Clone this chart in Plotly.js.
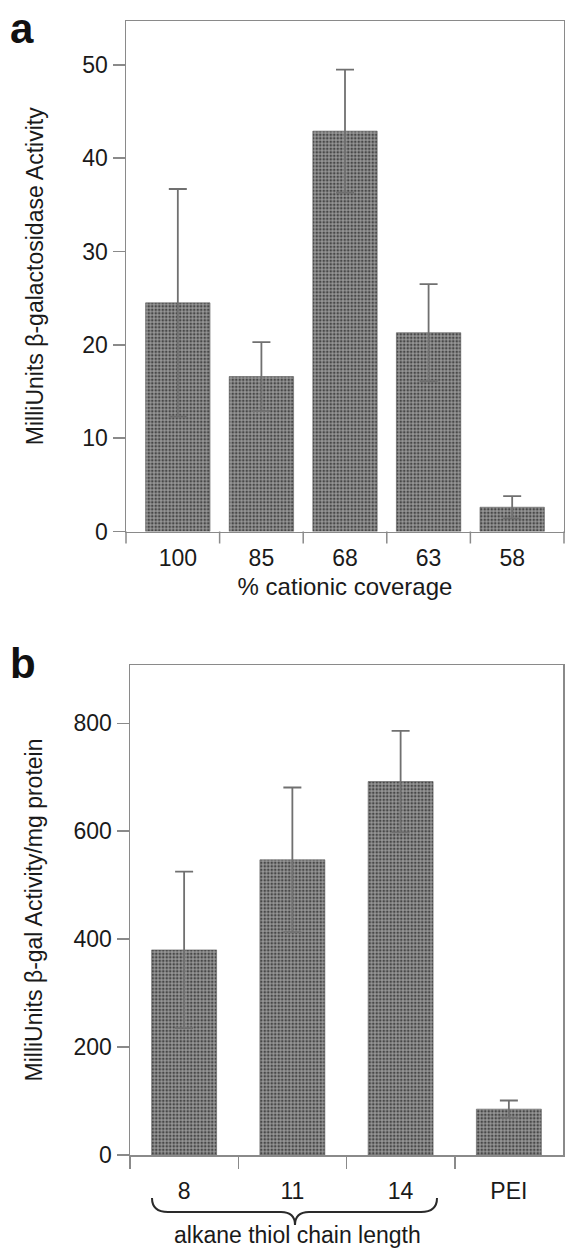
<!DOCTYPE html>
<html>
<head>
<meta charset="utf-8">
<script src="https://cdn.plot.ly/plotly-3.0.1.min.js"></script>
<style>html,body{margin:0;padding:0;background:#fff;}#chart{width:565px;height:1251px;}</style>
</head>
<body>
<div id="chart"></div>
<script>
// Panel a data
const coverageLabels = ["100", "85", "68", "63", "58"];
const activityA = [24.5, 16.6, 42.9, 21.3, 2.6];
const errorA = [12.2, 3.7, 6.6, 5.2, 1.2];

// Panel b data
const chainLabels = ["8", "11", "14", "PEI"];
const activityB = [380, 547, 692, 85];
const errorB = [145, 134, 94, 16];

const W = 565, H = 1251;
const px = v => v / W;
const py = v => 1 - v / H;

const FONT = "Liberation Sans, Arial, Helvetica, sans-serif";
const TXT = "#1a1a1a";
const AX = "#8a8a8a";

const barMarker = {
  color: "#727272",
  line: {color: "#585858", width: 0.6},
  pattern: {shape: ".", fgcolor: "#484848", bgcolor: "#979797", size: 3.5, solidity: 0.45, fillmode: "replace"}
};
const errStyle = (arr) => ({type: "data", array: arr, visible: true, color: "#707070", thickness: 1.8, width: 9});

const traceA = {
  type: "bar", x: coverageLabels, y: activityA, xaxis: "x", yaxis: "y",
  width: 0.77, marker: barMarker, error_y: errStyle(errorA), showlegend: false, hoverinfo: "none"
};
const traceB = {
  type: "bar", x: chainLabels, y: activityB, xaxis: "x2", yaxis: "y2",
  width: 0.6, marker: barMarker, error_y: errStyle(errorB), showlegend: false, hoverinfo: "none"
};

const common = {
  showline: true, linecolor: AX, linewidth: 1.5, mirror: true,
  ticks: "outside", tickcolor: AX, tickwidth: 1.5, ticklen: 12,
  showgrid: false, zeroline: false,
  tickfont: {family: FONT, size: 23, color: TXT}
};

// Panel a boundary ticks (category boundaries + box corners)
const yA0 = 531.5;
const tickShapesA = [];
[0.5, 1.5, 2.5, 3.5].forEach(v => tickShapesA.push({
  type: "line", xref: "x", yref: "paper", x0: v, x1: v, y0: py(yA0), y1: py(yA0 + 12),
  line: {color: AX, width: 1.5}
}));
[0, 1].forEach(v => tickShapesA.push({
  type: "line", xref: "x domain", yref: "paper", x0: v, x1: v, y0: py(yA0), y1: py(yA0 + 12),
  line: {color: AX, width: 1.5}
}));

// curly brace under 8/11/14
const bx0 = 152, bx1 = 437, bm = 295, by0 = 1198, by1 = 1212, by2 = 1225;
const bracePath =
  `M ${px(bx0)} ${py(by0)} Q ${px(bx0)} ${py(by1)} ${px(bx0 + 16)} ${py(by1)} ` +
  `L ${px(bm - 14)} ${py(by1)} Q ${px(bm)} ${py(by1)} ${px(bm)} ${py(by2)} ` +
  `Q ${px(bm)} ${py(by1)} ${px(bm + 14)} ${py(by1)} ` +
  `L ${px(bx1 - 16)} ${py(by1)} Q ${px(bx1)} ${py(by1)} ${px(bx1)} ${py(by0)}`;

const layout = {
  width: W, height: H,
  margin: {l: 0, r: 0, t: 0, b: 0},
  paper_bgcolor: "#fff", plot_bgcolor: "#fff",
  xaxis: Object.assign({}, common, {
    domain: [px(126), px(564)], anchor: "y", type: "category",
    range: [-0.62, 4.62], ticklen: 0, ticklabelstandoff: 5,
    title: {text: "% cationic coverage", font: {family: FONT, size: 24, color: TXT}, standoff: 8}
  }),
  yaxis: Object.assign({}, common, {
    domain: [py(yA0), py(21)], anchor: "x", range: [0, 54.7],
    tickvals: [0, 10, 20, 30, 40, 50],
    title: {text: "MilliUnits β-galactosidase Activity", font: {family: FONT, size: 23, color: TXT}, standoff: 32}
  }),
  xaxis2: Object.assign({}, common, {
    domain: [px(130), px(563)], anchor: "y2", type: "category",
    range: [-0.5, 3.5], tickson: "boundaries", ticklabelstandoff: 15
  }),
  yaxis2: Object.assign({}, common, {
    domain: [py(1155), py(665)], anchor: "x2", range: [0, 908],
    tickvals: [0, 200, 400, 600, 800],
    title: {text: "MilliUnits β-gal Activity/mg protein", font: {family: FONT, size: 23, color: TXT}, standoff: 24}
  }),
  shapes: tickShapesA.concat([{
    type: "path", xref: "paper", yref: "paper", path: bracePath,
    line: {color: "#2a2a2a", width: 2}
  }]),
  annotations: [
    {text: "<b>a</b>", xref: "paper", yref: "paper", x: px(8), y: py(3), xanchor: "left", yanchor: "top",
     showarrow: false, font: {family: FONT, size: 42, color: "#111"}},
    {text: "<b>b</b>", xref: "paper", yref: "paper", x: px(8), y: py(638), xanchor: "left", yanchor: "top",
     showarrow: false, font: {family: FONT, size: 42, color: "#111"}},
    {text: "alkane thiol chain length", xref: "paper", yref: "paper", x: px(297), y: py(1250),
     xanchor: "center", yanchor: "bottom", showarrow: false, font: {family: FONT, size: 23, color: TXT}}
  ]
};

Plotly.newPlot("chart", [traceA, traceB], layout, {staticPlot: true, displayModeBar: false});
</script>
</body>
</html>
